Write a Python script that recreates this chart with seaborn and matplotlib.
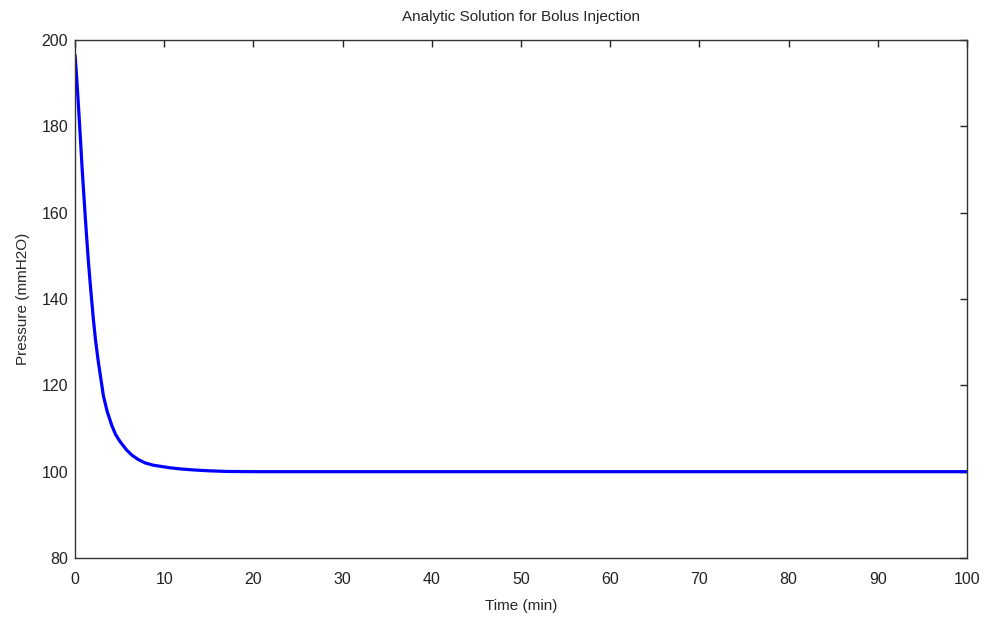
import matplotlib
matplotlib.use("Agg")
import matplotlib.pyplot as plt
import seaborn as sns
import pandas as pd

time_min = [0.0, 0.13, 0.26, 0.45, 0.64, 0.79, 0.93, 1.12, 1.3, 1.49, 1.75, 2.05, 2.3,
            2.61, 2.9, 3.18, 3.6, 4.11, 4.55, 5.04, 5.79, 6.4, 7.1, 7.9, 8.78, 9.7,
            10.65, 12.0, 13.3, 15.0, 17.0, 20.0, 25.0, 40.0, 60.0, 80.0, 100.0]
pressure = [196.5, 193.0, 189.0, 182.6, 176.0, 170.5, 166.0, 160.0, 154.5, 149.0, 142.5, 135.5, 130.5,
            125.5, 121.5, 117.6, 114.0, 110.8, 108.6, 107.0, 105.0, 103.8, 102.8, 102.0, 101.5, 101.2,
            100.9, 100.6, 100.4, 100.2, 100.05, 100.0, 100.0, 100.0, 100.0, 100.0, 100.0]

x_ticks = [0, 10, 20, 30, 40, 50, 60, 70, 80, 90, 100]
y_ticks = [80, 100, 120, 140, 160, 180, 200]

sns.set_style("white")
plt.rcParams['font.family'] = ['Liberation Sans', 'DejaVu Sans']

df = pd.DataFrame({"Time (min)": time_min, "Pressure (mmH2O)": pressure})

fig = plt.figure(figsize=(9.87, 6.19), dpi=100)
ax = fig.add_axes([75/987, 61/619, 892/987, 518/619])
sns.lineplot(data=df, x="Time (min)", y="Pressure (mmH2O)", ax=ax,
             color="#0000ff", linewidth=2.3)

ax.set_xlim(0, 100)
ax.set_ylim(80, 200)
ax.set_xticks(x_ticks)
ax.set_yticks(y_ticks)
ax.tick_params(direction="in", length=5, width=1, top=True, right=True,
               labelsize=11.5, colors="#222222")
ax.tick_params(axis="x", pad=10)
ax.tick_params(axis="y", pad=5)
for s in ax.spines.values():
    s.set_visible(True)
    s.set_color("#333333")
    s.set_linewidth(1)
ax.set_xlabel("Time (min)", fontsize=11, labelpad=9)
ax.set_ylabel("Pressure (mmH2O)", fontsize=11, labelpad=8)
ax.set_title("Analytic Solution for Bolus Injection", fontsize=11, pad=14)

fig.savefig("out.png", dpi=100)
